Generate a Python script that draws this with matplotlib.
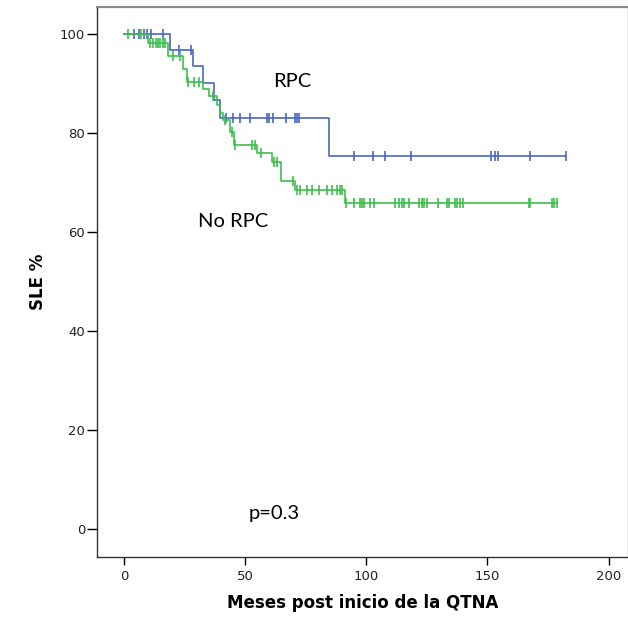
import numpy as np
import matplotlib
matplotlib.use('Agg')
import matplotlib.pyplot as plt

# RPC group: event times / survival levels
rpc_t = [0, 19, 28.3, 32.7, 36.9, 39.5, 84.5]
rpc_s = [100, 96.8, 93.5, 90.2, 86.6, 83.1, 75.4]
rpc_end = 182.6
rpc_cens = [4, 6, 8, 9.5, 11, 16, 22.7, 27.7,
            42, 45, 48, 52, 59, 60, 61.6, 67, 70.7, 71.5, 72.3,
            94.8, 102.7, 107.5, 118.6, 151.5, 153.3, 154.3, 167.5, 182.6]

# No RPC group
norpc_t = [0, 10, 18.2, 24.5, 25.8, 32.6, 35.0, 38.2, 39.5, 40.8, 43.5, 45.2,
           54.8, 61, 64.8, 70.6, 91]
norpc_s = [100, 98.2, 95.6, 92.9, 90.4, 88.9, 87.4, 85.7, 84.1, 82.6, 80.3, 77.6,
           76.0, 74.2, 70.3, 68.5, 65.8]
norpc_end = 178.8
norpc_cens = [1.5, 7, 10.7, 12, 13, 14, 15, 16, 17, 20.2, 23.1, 26.5, 29, 31,
              36.5, 41.7, 44.5, 45.8, 52.8, 54, 56.4, 61.7, 63, 69.6,
              71.3, 72.7, 75.5, 77.5, 80.3, 83.7, 85.8, 88, 89.3, 89.9,
              91.5, 94.8, 97.5, 98.2, 98.9, 101.7, 103, 112, 113.4, 114.7, 115.4,
              117.5, 121.6, 123, 123.7, 125.1, 129.5, 133.4, 134, 136.8, 137.5,
              138.8, 139.9, 167.1, 167.5, 176.7, 177.4, 178.8]

x_ticks = [0, 50, 100, 150, 200]
y_ticks = [0, 20, 40, 60, 80, 100]

BLUE = '#4a66c0'
GREEN = '#3dbf4c'


def draw_km(ax, t, s, end, cens, color):
    tt = np.array(t + [end])
    ss = np.array(s + [s[-1]])
    ax.step(tt, ss, where='post', color=color, lw=1.2)
    idx = np.searchsorted(np.array(t), np.array(cens), side='right') - 1
    cy = np.array(s)[idx]
    ax.plot(cens, cy, ls='none', marker='|', ms=7, mew=1.2, color=color)


fig = plt.figure(figsize=(6.28, 6.29), dpi=100)
ax = fig.add_axes([0.1545, 0.1145, 0.845, 0.8745])

draw_km(ax, rpc_t, rpc_s, rpc_end, rpc_cens, BLUE)
draw_km(ax, norpc_t, norpc_s, norpc_end, norpc_cens, GREEN)

ax.set_xlim(-11.2, 207.9)
ax.set_ylim(-5.66, 105.5)
ax.set_xticks(x_ticks)
ax.set_yticks(y_ticks)
ax.tick_params(axis='x', length=5.8, width=1, pad=3.6, labelsize=9.5,
               labelcolor='#222222')
ax.tick_params(axis='y', length=7, width=1, pad=1.5, labelsize=9.5,
               labelcolor='#222222')

for sp in ['left', 'bottom']:
    ax.spines[sp].set_color('#333333')
    ax.spines[sp].set_linewidth(1.0)
ax.spines['top'].set_color('#8a8a8a')
ax.spines['top'].set_linewidth(1.6)
ax.spines['right'].set_color('#8a8a8a')
ax.spines['right'].set_linewidth(1.0)

ax.set_xlabel('Meses post inicio de la QTNA', fontsize=12, fontweight='bold',
              labelpad=8)
ax.set_ylabel('SLE %', fontsize=12, fontweight='bold', labelpad=9)

ax.text(69.4, 90.5, 'RPC', fontsize=14.5, family=['Lato', 'DejaVu Sans'],
        ha='center', va='center')
ax.text(45, 62.2, 'No RPC', fontsize=14.5, family=['Lato', 'DejaVu Sans'],
        ha='center', va='center')
ax.text(62, 3.2, 'p=0.3', fontsize=14.5, family=['Lato', 'DejaVu Sans'],
        ha='center', va='center')

fig.savefig('out.png', dpi=100)
